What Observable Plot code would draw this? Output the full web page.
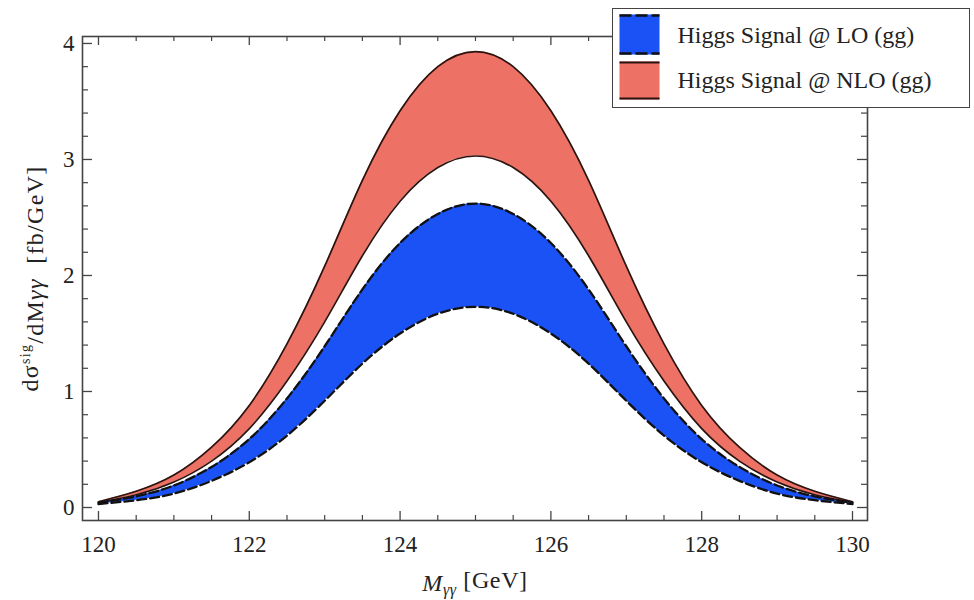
<!DOCTYPE html>
<html>
<head>
<meta charset="utf-8">
<script src="https://cdn.jsdelivr.net/npm/d3@7"></script>
<script src="https://cdn.jsdelivr.net/npm/@observablehq/plot@0.6"></script>
<style>
  body { margin: 0; background: #fff; }
  #wrap { position: relative; width: 974px; height: 600px; font-family: 'Liberation Serif', serif; }
  #legend { position: absolute; left: 612px; top: 8px; width: 356px; height: 98px; border: 1.5px solid #444; background: #fff; }
</style>
</head>
<body>
<div id="wrap"></div>
<script>
// Diphoton invariant mass [GeV]
const mass = [120, 120.5, 121, 121.5, 122, 122.5, 123, 123.5, 124, 124.5, 125,
              125.5, 126, 126.5, 127, 127.5, 128, 128.5, 129, 129.5, 130];
// Higgs Signal @ NLO (gg) band: upper / lower edge [fb/GeV]
const nloUpper = [0.05, 0.14, 0.28, 0.52, 0.88, 1.41, 2.08, 2.82, 3.42, 3.80, 3.93,
                  3.80, 3.42, 2.82, 2.08, 1.41, 0.88, 0.52, 0.28, 0.14, 0.05];
const nloLower = [0.045, 0.11, 0.22, 0.40, 0.68, 1.09, 1.60, 2.17, 2.64, 2.93, 3.03,
                  2.93, 2.64, 2.17, 1.60, 1.09, 0.68, 0.40, 0.22, 0.11, 0.045];
// Higgs Signal @ LO (gg) band: upper / lower edge [fb/GeV]
const loUpper = [0.04, 0.096, 0.19, 0.35, 0.59, 0.94, 1.39, 1.88, 2.28, 2.53, 2.62,
                 2.53, 2.28, 1.88, 1.39, 0.94, 0.59, 0.35, 0.19, 0.096, 0.04];
const loLower = [0.03, 0.063, 0.12, 0.23, 0.39, 0.62, 0.92, 1.24, 1.50, 1.67, 1.73,
                 1.67, 1.50, 1.24, 0.92, 0.62, 0.39, 0.23, 0.12, 0.063, 0.03];

// Tick values
const xMajor = [120, 122, 124, 126, 128, 130];
const xMinor = [120.5, 121, 121.5, 122.5, 123, 123.5, 124.5, 125, 125.5,
                126.5, 127, 127.5, 128.5, 129, 129.5];
const yMajor = [0, 1, 2, 3, 4];
const yMinor = [0.2, 0.4, 0.6, 0.8, 1.2, 1.4, 1.6, 1.8, 2.2, 2.4, 2.6, 2.8,
                3.2, 3.4, 3.6, 3.8];

const legendItems = ["Higgs Signal @ LO (gg)", "Higgs Signal @ NLO (gg)"];

const rows = mass.map((m, i) => ({
  m, nloU: nloUpper[i], nloL: nloLower[i], loU: loUpper[i], loL: loLower[i]
}));

const W = 974, H = 600, mL = 82, mR = 107, mT = 36, mB = 80;
const fw = W - mL - mR, fh = H - mT - mB;
const tickColor = "#444";
const curve = "natural";
const serif = "'Liberation Serif', 'Times New Roman', serif";

const chart = Plot.plot({
  width: W, height: H,
  marginLeft: mL, marginRight: mR, marginTop: mT, marginBottom: mB,
  style: { fontFamily: serif, fontSize: "23px", background: "white", color: "#222" },
  x: { domain: [119.788, 130.199] },
  y: { domain: [-0.112, 4.06] },
  marks: [
    Plot.areaY(rows, { x: "m", y1: "nloL", y2: "nloU", fill: "#ee7166", curve }),
    Plot.areaY(rows, { x: "m", y1: "loL", y2: "loU", fill: "#1a52f5", curve }),
    Plot.lineY(rows, { x: "m", y: "nloU", stroke: "#2a1410", strokeWidth: 1.7, curve }),
    Plot.lineY(rows, { x: "m", y: "nloL", stroke: "#2a1410", strokeWidth: 1.7, curve }),
    Plot.lineY(rows, { x: "m", y: "loU", stroke: "#111", strokeWidth: 2.3, strokeDasharray: "9,4", curve }),
    Plot.lineY(rows, { x: "m", y: "loL", stroke: "#111", strokeWidth: 2.3, strokeDasharray: "9,4", curve }),
    Plot.frame({ stroke: tickColor, strokeWidth: 1.6 }),
    Plot.tickX(xMajor, { x: d => d, insetTop: fh - 9, stroke: tickColor, strokeWidth: 1.3 }),
    Plot.tickX(xMajor, { x: d => d, insetBottom: fh - 9, stroke: tickColor, strokeWidth: 1.3 }),
    Plot.tickX(xMinor, { x: d => d, insetTop: fh - 5, stroke: tickColor, strokeWidth: 1.2 }),
    Plot.tickX(xMinor, { x: d => d, insetBottom: fh - 5, stroke: tickColor, strokeWidth: 1.2 }),
    Plot.tickY(yMajor, { y: d => d, insetRight: fw - 10, stroke: tickColor, strokeWidth: 1.3 }),
    Plot.tickY(yMajor, { y: d => d, insetLeft: fw - 10, stroke: tickColor, strokeWidth: 1.3 }),
    Plot.tickY(yMinor, { y: d => d, insetRight: fw - 6, stroke: tickColor, strokeWidth: 1.2 }),
    Plot.tickY(yMinor, { y: d => d, insetLeft: fw - 6, stroke: tickColor, strokeWidth: 1.2 }),
    Plot.axisX({ ticks: xMajor, tickSize: 0, tickPadding: 15, tickFormat: d => String(d),
                 fontSize: 23, label: "Mγγ [GeV]", labelAnchor: "center", labelOffset: 70 }),
    Plot.axisY({ ticks: yMajor, tickSize: 0, tickPadding: 8, tickFormat: d => String(d),
                 fontSize: 23, label: "dσsig/dMγγ  [fb/GeV]", labelAnchor: "center", labelOffset: 62 })
  ]
});

// Rich-text axis labels (italic symbols, sub/superscripts)
const NS = "http://www.w3.org/2000/svg";
function setRich(textEl, parts, size, spacing) {
  if (!textEl) return;
  textEl.textContent = "";
  textEl.setAttribute("font-size", size);
  textEl.setAttribute("letter-spacing", spacing);
  for (const p of parts) {
    const t = document.createElementNS(NS, "tspan");
    t.textContent = p.t;
    if (p.italic) t.setAttribute("font-style", "italic");
    if (p.size) t.setAttribute("font-size", p.size);
    if (p.dy) t.setAttribute("dy", p.dy);
    textEl.appendChild(t);
  }
}
setRich(chart.querySelector('g[aria-label="x-axis label"] text'), [
  { t: "M", italic: true },
  { t: "γγ", italic: true, size: 16, dy: "0.3em" },
  { t: " [GeV]", dy: "-0.3em" }
], 24, 0.6);
setRich(chart.querySelector('g[aria-label="y-axis label"] text'), [
  { t: "dσ" },
  { t: "sig", size: 14, dy: "-0.55em" },
  { t: "/dM", dy: "0.55em" },
  { t: "γγ", italic: true },
  { t: "  [fb/GeV]" }
], 24, 1.3);

const wrap = document.getElementById("wrap");
wrap.appendChild(chart);

// Legend
const legend = document.createElement("div");
legend.id = "legend";
legend.innerHTML = `<svg width="356" height="98" xmlns="${NS}">
  <rect x="6.5" y="5.5" width="40" height="40" fill="#1a52f5"/>
  <line x1="6.5" x2="46.5" y1="6.5" y2="6.5" stroke="#111" stroke-width="2.5" stroke-dasharray="12,4"/>
  <line x1="6.5" x2="46.5" y1="44.5" y2="44.5" stroke="#111" stroke-width="2.5" stroke-dasharray="12,4"/>
  <rect x="6.5" y="52.5" width="40" height="38" fill="#ee7166"/>
  <line x1="6.5" x2="46.5" y1="53.5" y2="53.5" stroke="#2a1410" stroke-width="2"/>
  <line x1="6.5" x2="46.5" y1="89.5" y2="89.5" stroke="#2a1410" stroke-width="2"/>
  <text x="64.5" y="34" font-size="24" fill="#222" font-family="${serif}">${legendItems[0]}</text>
  <text x="64.5" y="79" font-size="24" fill="#222" font-family="${serif}">${legendItems[1]}</text>
</svg>`;
wrap.appendChild(legend);
</script>
</body>
</html>
